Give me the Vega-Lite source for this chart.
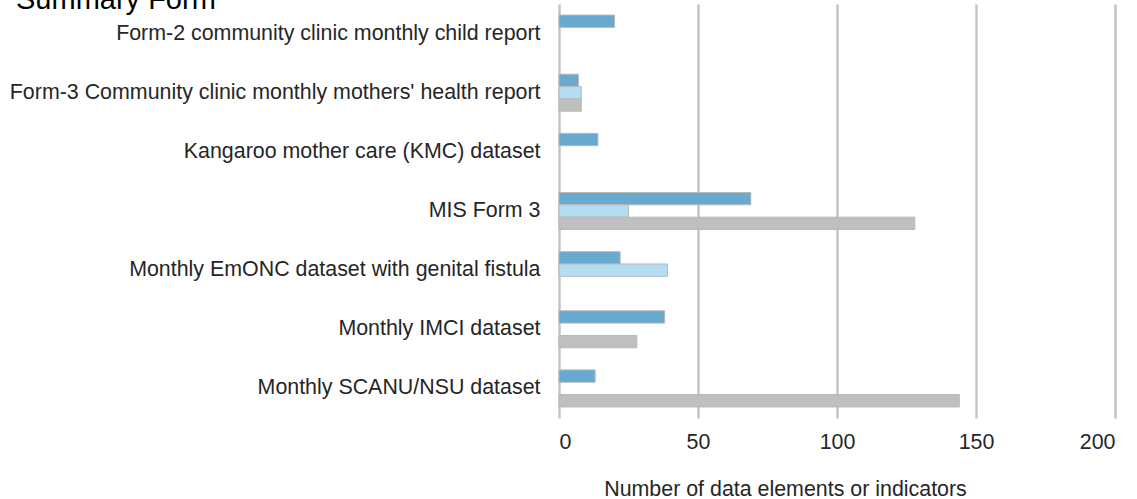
{
  "$schema": "https://vega.github.io/schema/vega-lite/v6.json",
  "width": 556,
  "height": 414,
  "autosize": {"type": "none"},
  "padding": {"left": 559, "top": 4, "right": 22, "bottom": 81},
  "background": "white",
  "title": {
    "text": "Summary Form",
    "anchor": "start",
    "frame": "group",
    "dx": -543,
    "dy": 34,
    "offset": 0,
    "baseline": "alphabetic",
    "fontSize": 29,
    "font": "Liberation Sans",
    "fontWeight": "normal",
    "color": "#000000"
  },
  "data": {
    "values": [
      {"form": "Form-2 community clinic monthly child report", "series": "Series 1", "value": 20},
      {"form": "Form-3 Community clinic monthly mothers' health report", "series": "Series 1", "value": 7},
      {"form": "Form-3 Community clinic monthly mothers' health report", "series": "Series 2", "value": 8},
      {"form": "Form-3 Community clinic monthly mothers' health report", "series": "Series 3", "value": 8},
      {"form": "Kangaroo mother care (KMC) dataset", "series": "Series 1", "value": 14},
      {"form": "MIS Form 3", "series": "Series 1", "value": 69},
      {"form": "MIS Form 3", "series": "Series 2", "value": 25},
      {"form": "MIS Form 3", "series": "Series 3", "value": 128},
      {"form": "Monthly EmONC dataset with genital fistula", "series": "Series 1", "value": 22},
      {"form": "Monthly EmONC dataset with genital fistula", "series": "Series 2", "value": 39},
      {"form": "Monthly IMCI dataset", "series": "Series 1", "value": 38},
      {"form": "Monthly IMCI dataset", "series": "Series 3", "value": 28},
      {"form": "Monthly SCANU/NSU dataset", "series": "Series 1", "value": 13},
      {"form": "Monthly SCANU/NSU dataset", "series": "Series 3", "value": 144}
    ]
  },
  "mark": {"type": "bar", "stroke": "#B8B8B8", "strokeWidth": 1},
  "encoding": {
    "y": {
      "field": "form",
      "type": "nominal",
      "sort": [
        "Form-2 community clinic monthly child report",
        "Form-3 Community clinic monthly mothers' health report",
        "Kangaroo mother care (KMC) dataset",
        "MIS Form 3",
        "Monthly EmONC dataset with genital fistula",
        "Monthly IMCI dataset",
        "Monthly SCANU/NSU dataset"
      ],
      "scale": {"paddingInner": 0.374, "paddingOuter": 0.187},
      "axis": {
        "title": null,
        "labelLimit": 0,
        "labelFontSize": 21.4,
        "labelFont": "Liberation Sans",
        "labelColor": "#262626",
        "labelPadding": 19,
        "ticks": false,
        "domain": false,
        "grid": false
      }
    },
    "yOffset": {
      "field": "series",
      "type": "nominal",
      "sort": ["Series 1", "Series 2", "Series 3"],
      "scale": {"paddingInner": 0, "paddingOuter": 0}
    },
    "x": {
      "field": "value",
      "type": "quantitative",
      "scale": {"domain": [0, 200], "nice": false},
      "axis": {
        "values": [0, 50, 100, 150, 200],
        "title": "Number of data elements or indicators",
        "grid": true,
        "gridColor": "#C4C4C4",
        "gridWidth": 2.5,
        "domain": false,
        "ticks": false,
        "labelPadding": 13,
        "labelFontSize": 21.4,
        "labelFont": "Liberation Sans",
        "labelColor": "#262626",
        "titleFont": "Liberation Sans",
        "titleFontSize": 21.4,
        "titleFontWeight": "normal",
        "titleColor": "#262626",
        "titleX": 226,
        "titleY": 77,
        "titleAlign": "center",
        "titleBaseline": "alphabetic"
      }
    },
    "color": {
      "field": "series",
      "type": "nominal",
      "scale": {"domain": ["Series 1", "Series 2", "Series 3"], "range": ["#67A9CF", "#B4DDF2", "#BFBFBF"]},
      "legend": null
    }
  },
  "config": {"view": {"stroke": null}}
}
